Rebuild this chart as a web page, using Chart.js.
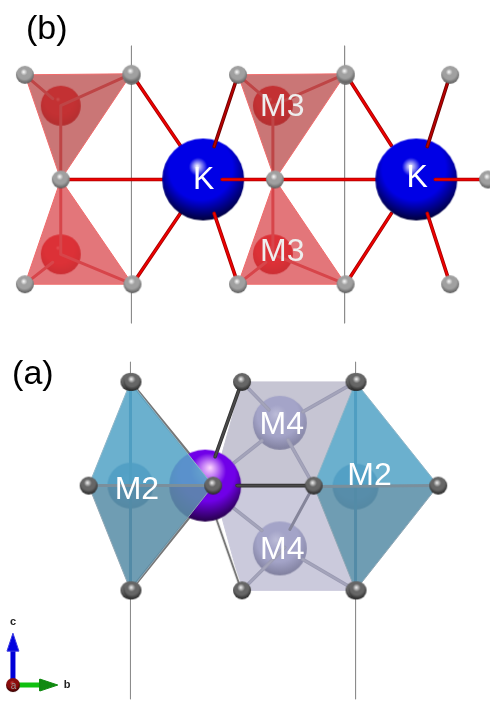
<!DOCTYPE html>
<html>
<head>
<meta charset="utf-8">
<title>Structure</title>
<script src="https://cdn.jsdelivr.net/npm/chart.js@4"></script>
<style>
html, body { margin: 0; padding: 0; background: #fff; overflow: hidden; }
canvas { display: block; }
</style>
</head>
<body>
<canvas id="structure" width="490" height="701"></canvas>
<script>
// panel (b), anions
const oxygenBX = [131, 346, 24, 131, 238, 346, 451, 60, 275, 489, 24, 132, 238, 346, 451];
const oxygenBY = [75, 75, 74, 73, 74, 73, 74, 179, 179, 179, 284, 284, 284, 284, 284];
// panel (b), cations
const potassiumBX = [203, 417];
const potassiumBY = [179, 179];
const m3X = [60, 60, 273, 273];
const m3Y = [105, 254, 105, 254];
// panel (b), polyhedra
const triUpLeftX = [24, 131, 60, 24];
const triUpLeftY = [74, 73, 179, 74];
const triUpRightX = [238, 346, 275, 238];
const triUpRightY = [74, 73, 179, 74];
const triLowLeftX = [24, 132, 60, 24];
const triLowLeftY = [284, 284, 179, 284];
const triLowRightX = [238, 346, 275, 238];
const triLowRightY = [284, 284, 179, 284];
// panel (b), bonds (null breaks the line)
const bondInnerX = [24, 52, null, 131, 60, null, 60, 60, 60, null, 24, 52, null, 132, 60, null, 238, 266, null, 346, 273, null, 273, 273, 273, null, 238, 266, null, 346, 273];
const bondInnerY = [74, 98, null, 73, 105, null, 105, 179, 254, null, 284, 262, null, 284, 254, null, 74, 98, null, 73, 105, null, 105, 179, 254, null, 284, 262, null, 284, 254];
const bondBackX = [60, 170, null, 131, 180, null, 132, 180, null, 275, 380, null, 346, 392, null, 346, 392];
const bondBackY = [179, 179, null, 73, 145, null, 284, 213, null, 179, 179, null, 73, 145, null, 284, 213];
const bondFrontX = [222, 275, null, 214, 238, null, 436, 489, null, 428, 451];
const bondFrontY = [179, 179, null, 213, 284, null, 179, 179, null, 213, 284];
const bondDarkX = [238, 214, null, 451, 428];
const bondDarkY = [74, 146, null, 74, 146];
// panel (a), anions
const oxygenAX = [129, 132, 129, 132, 242, 355, 358, 242, 355, 358, 88, 213, 314, 439];
const oxygenAY = [382, 382, 591, 591, 382, 382, 382, 591, 591, 591, 486, 486, 486, 486];
// panel (a), cations
const potassiumAX = [205];
const potassiumAY = [486];
const m2X = [130, 356];
const m2Y = [486, 487];
const m4X = [280, 280];
const m4Y = [423, 549];
// panel (a), polyhedra
const slabUpX = [242, 356, 314, 213, 242];
const slabUpY = [382, 382, 486, 486, 382];
const slabLowX = [242, 356, 314, 213, 242];
const slabLowY = [591, 591, 486, 486, 591];
const kiteUpLeftX = [130, 213, 88, 130];
const kiteUpLeftY = [382, 486, 486, 382];
const kiteLowLeftX = [130, 213, 88, 130];
const kiteLowLeftY = [591, 486, 486, 591];
const kiteUpRightX = [356, 439, 314, 356];
const kiteUpRightY = [382, 486, 486, 382];
const kiteLowRightX = [356, 439, 314, 356];
const kiteLowRightY = [591, 486, 486, 591];
// panel (a), bonds
const paleBondX = [242, 269, null, 356, 303, null, 205, 262, null, 205, 262, null, 242, 285, null, 356, 303, null, 314, 288];
const paleBondY = [382, 410, null, 382, 412, null, 486, 441, null, 486, 531, null, 591, 548, null, 591, 560, null, 486, 440];
const slabBondX = [314, 290];
const slabBondY = [486, 530];
const midBondX = [215, 241];
const midBondY = [516, 590];
const darkBondX = [215, 241, null, 237, 314];
const darkBondY = [457, 384, null, 486, 486];
const edgeBondX = [130, 192, null, 130, 192];
const edgeBondY = [382, 458, null, 591, 514];
const kiteBondX = [130, 130, null, 356, 356];
const kiteBondY = [382, 591, null, 382, 591];
const kiteAcrossX = [88, 213, null, 314, 439];
const kiteAcrossY = [486, 486, null, 487, 486];
// cell edges
const cellX = [131, 131, null, 345, 345, null, 130, 130, null, 356, 356];
const cellY = [45, 323, null, 45, 323, null, 362, 700, null, 362, 700];
// axis triad
const axisCX = [12, 12];
const axisCY = [686, 650];
const headCX = [12, 18, 6, 12];
const headCY = [634, 652, 652, 634];
const axisBX = [12, 42];
const axisBY = [686, 686];
const headBX = [57, 39, 39, 57];
const headBY = [686, 680, 692, 686];
const axisAX = [12];
const axisAY = [686];
// text
const labelText = ['(b)', '(a)', 'K', 'K', 'M3', 'M3', 'M2', 'M2', 'M4', 'M4', 'c', 'b', 'a'];
const labelX = [46, 32, 203.5, 418, 282.5, 282.5, 136.5, 370, 282, 282.5, 12, 66.5, 12.5];
const labelY = [29, 375, 180, 178, 106, 252, 491, 477, 425, 551, 623, 686, 687];
const labelSize = [34, 34, 32, 32, 32, 32, 32, 32, 32, 32, 11, 11, 10];
const labelColor = ['#000', '#000', '#fff', '#fff', '#eee', '#eee', '#fff', '#fff', '#fff', '#fff', '#222', '#222', '#999'];
const labelWeight = ['400', '400', '400', '400', '400', '400', '400', '400', '400', '400', '700', '700', '400'];

// shaded ball used as a point style
function ball(r, glow, body, rim, spot, dx = -0.15, dy = -0.32) {
  const c = document.createElement('canvas');
  c.width = c.height = 2 * r + 2;
  const ctx = c.getContext('2d');
  const m = r + 1;
  const g = ctx.createRadialGradient(m + dx * r, m + dy * r, 0, m, m - 0.25 * r, 1.25 * r);
  g.addColorStop(0, glow);
  g.addColorStop(spot, body);
  g.addColorStop(0.62, body);
  g.addColorStop(1, rim);
  ctx.fillStyle = g;
  ctx.arc(m, m, r, 0, Math.PI * 2);
  ctx.fill();
  return c;
}

function pts(xs, ys) {
  return xs.map((x, i) => ({ x: x, y: ys[i] }));
}

const datasets = [];

function add(set) {
  set.order = -datasets.length; // later sets paint on top
  set.clip = false;
  set.pointRadius = set.pointRadius || 0;
  set.pointHoverRadius = set.pointRadius;
  set.borderWidth = 0;
  datasets.push(set);
}

function lines(xs, ys, color, width) {
  add({ data: pts(xs, ys), showLine: true, borderColor: color, tension: 0, spanGaps: false, fill: false });
  const s = datasets[datasets.length - 1];
  s.borderWidth = width;
  s.borderCapStyle = 'round';
}

function bond(xs, ys, dark, bright) {
  lines(xs, ys, dark, 3.6);
  lines(xs, ys, bright, 1.8);
}

function poly(xs, ys, fillColor, edge) {
  add({ data: pts(xs, ys), showLine: true, fill: 'shape', backgroundColor: fillColor, borderColor: edge, tension: 0 });
  datasets[datasets.length - 1].borderWidth = 1;
}

function balls(xs, ys, sprite) {
  add({ data: pts(xs, ys), showLine: false, pointStyle: sprite, pointRadius: 1 });
}

const oxyB = ball(9, '#ffffff', '#a0a0a0', '#585858', 0.3);
const oxyA = ball(9, '#f6f6f6', '#666666', '#222222', 0.35);
const blueK = ball(41, '#ffffff', '#0000e6', '#00003a', 0.18);
const purpleK = ball(36, '#ffd8ff', '#7000e8', '#26004a', 0.4, 0.14, -0.5);
const redM = ball(20, '#ff8080', '#e6181e', '#b01015', 0.1);
const tealM = ball(23, '#4f8fc4', '#3d7db7', '#2a5a80', 0.2);
const paleM = ball(27, '#bcbcd8', '#a4a4c8', '#80809e', 0.3);

lines(cellX, cellY, '#8c8c8c', 1);

// panel (b)
balls(m3X, m3Y, redM);
lines(bondInnerX, bondInnerY, '#d85a5e', 3);
poly(triUpLeftX, triUpLeftY, 'rgba(180,60,60,.7)', '#f06a6a');
poly(triUpRightX, triUpRightY, 'rgba(180,60,60,.7)', '#f06a6a');
poly(triLowLeftX, triLowLeftY, 'rgba(215,60,65,.7)', '#f06a6a');
poly(triLowRightX, triLowRightY, 'rgba(215,60,65,.7)', '#f06a6a');
bond(bondBackX, bondBackY, '#a80000', '#f00000');
balls(potassiumBX, potassiumBY, blueK);
bond(bondFrontX, bondFrontY, '#a80000', '#f00000');
bond(bondDarkX, bondDarkY, '#700000', '#b80000');
balls(oxygenBX, oxygenBY, oxyB);

// panel (a)
poly(slabUpX, slabUpY, '#c6c5d3', '#c6c5d3');
poly(slabLowX, slabLowY, '#cbcadc', '#cbcadc');
balls(m4X, m4Y, paleM);
bond(paleBondX, paleBondY, '#9c9cb4', '#a4a4ba');
lines(slabBondX, slabBondY, '#85859a', 3);
bond(midBondX, midBondY, '#e8e8e8', '#777777');
lines(edgeBondX, edgeBondY, '#777777', 3);
balls(potassiumAX, potassiumAY, purpleK);
bond(darkBondX, darkBondY, '#333333', '#4a4a4a');
balls(m2X, m2Y, tealM);
lines(kiteBondX, kiteBondY, '#1f6a98', 3);
poly(kiteUpLeftX, kiteUpLeftY, 'rgba(86,165,199,.88)', '#8fb6c8');
poly(kiteUpRightX, kiteUpRightY, 'rgba(86,165,199,.88)', '#8fb6c8');
poly(kiteLowLeftX, kiteLowLeftY, 'rgba(91,144,169,.88)', '#8fa6b4');
poly(kiteLowRightX, kiteLowRightY, 'rgba(91,144,169,.88)', '#8fa6b4');
lines(kiteAcrossX, kiteAcrossY, '#7a8f9c', 3);
balls(oxygenAX, oxygenAY, oxyA);

// axis triad
lines(axisCX, axisCY, '#0000d8', 5);
poly(headCX, headCY, '#0000e0', '#3a3ae0');
lines(axisBX, axisBY, '#10c010', 5);
poly(headBX, headBY, '#108a10', '#108a10');
balls(axisAX, axisAY, ball(7, '#c04040', '#8a0c0c', '#300000', 0.3));

const labelPlugin = {
  id: 'labels',
  afterDatasetsDraw(chart) {
    const ctx = chart.ctx;
    const xs = chart.scales.x;
    const ys = chart.scales.y;
    ctx.save();
    ctx.textAlign = 'center';
    ctx.textBaseline = 'middle';
    labelText.forEach((t, i) => {
      ctx.font = labelWeight[i] + ' ' + labelSize[i] + 'px "Liberation Sans", sans-serif';
      ctx.fillStyle = labelColor[i];
      ctx.fillText(t, xs.getPixelForValue(labelX[i]), ys.getPixelForValue(labelY[i]));
    });
    ctx.restore();
  }
};

new Chart(document.getElementById('structure'), {
  type: 'scatter',
  data: { datasets: datasets },
  options: {
    responsive: false,
    animation: false,
    devicePixelRatio: 1,
    layout: { padding: 0 },
    events: [],
    scales: {
      x: { type: 'linear', display: false, min: 0, max: 490 },
      y: { type: 'linear', display: false, min: 0, max: 701, reverse: true }
    },
    plugins: {
      legend: { display: false },
      tooltip: { enabled: false }
    }
  },
  plugins: [labelPlugin]
});
</script>
</body>
</html>
